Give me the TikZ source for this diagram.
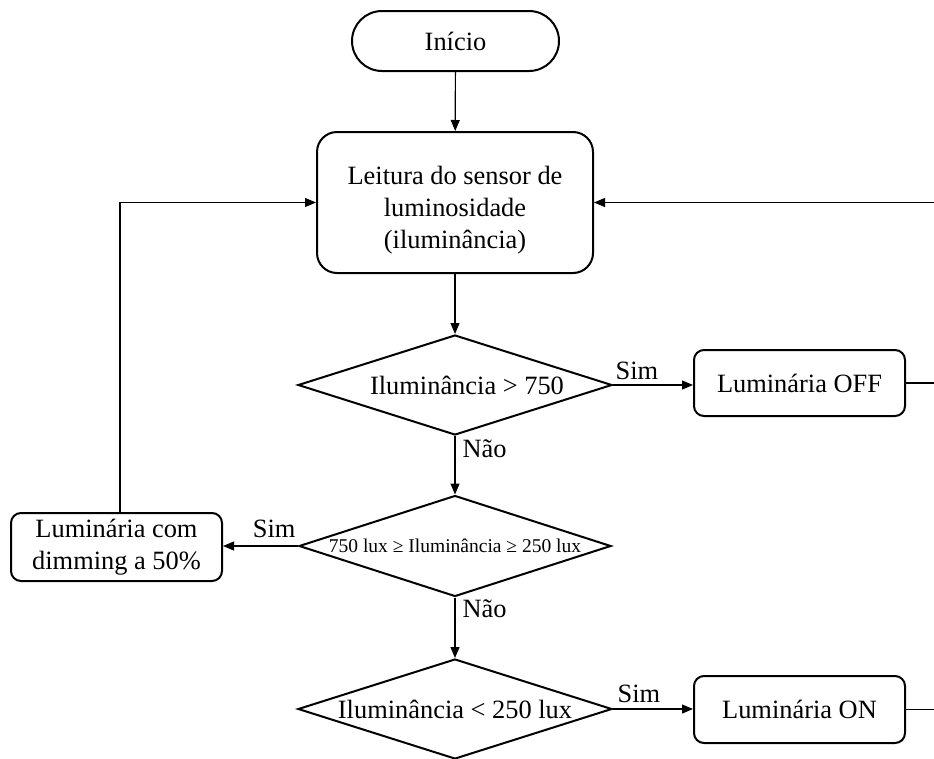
\documentclass[tikz,border=0pt]{standalone}
\usepackage{fontspec}
\setmainfont{Liberation Serif}
\usetikzlibrary{shapes.geometric,arrows.meta}
\begin{document}
\begin{tikzpicture}[x=1pt,y=-1pt,
  font=\fontsize{26.4}{32}\selectfont,
  shape line/.style={draw, line width=2pt},
  term/.style={shape line, rectangle, rounded corners=30pt, minimum width=207pt, minimum height=60pt, inner sep=0pt},
  proc/.style={shape line, rectangle, rounded corners=10pt, minimum width=211pt, minimum height=67pt, inner sep=0pt, align=center},
  bigproc/.style={shape line, rectangle, rounded corners=20pt, minimum width=276pt, minimum height=141pt, inner sep=0pt, align=center},
  dec/.style={shape line, diamond, aspect=3.14, minimum width=314pt, minimum height=100pt, inner sep=0pt},
  arr/.style={-{Triangle[length=11pt,width=9pt]}, line width=1.2pt},
  lbl/.style={inner sep=0pt}]
\useasboundingbox (0,0) rectangle (934,758);
\clip (0,0) rectangle (934,758);
\fill[white] (0,0) rectangle (934,758);

\node[term] (ini) at (455.5,41) {Início};
\node[bigproc] (lei) at (455,202.5) {\rule{0pt}{34pt}Leitura do sensor de\\luminosidade\\(iluminância)};
\node[dec] (d1) at (455,385) {\hspace*{24pt}Iluminância > 750};
\node[proc, minimum height=66pt] (off) at (799.5,383) {Luminária OFF};
\node[dec, minimum width=312pt, minimum height=101pt, font=\fontsize{19.5}{22}\selectfont] (d2) at (455,546) {750 lux ≥ Iluminância ≥ 250 lux};
\node[proc, minimum height=68pt] (dim) at (116.5,547) {Luminária com\\dimming a 50\%};
\node[dec] (d3) at (455,709) {Iluminância < 250 lux};
\node[proc] (on) at (799.5,709.5) {Luminária ON};

\draw[arr] (ini) -- (lei);
\draw[arr] (lei) -- (d1);
\draw[arr] (d1.east) -- (d1.east -| off.west)
  node[lbl, pos=0, anchor=base west, xshift=2pt, yshift=6pt] {Sim};
\draw[arr] (d1.south) -- (d2.north)
  node[lbl, pos=0, anchor=base west, xshift=7pt, yshift=-21pt] {Não};
\draw[arr] (d2.west) -- (d2.west -| dim.east)
  node[lbl, pos=0, anchor=base east, xshift=-2pt, yshift=9pt] {Sim};
\draw[arr] (d2.south) -- (d3.north)
  node[lbl, pos=0, anchor=base west, xshift=7pt, yshift=-20pt] {Não};
\draw[arr] (d3.east) -- (d3.east -| on.west)
  node[lbl, pos=0, anchor=base west, xshift=4pt, yshift=7pt] {Sim};
\draw[arr] ([xshift=3.5pt]dim.north) |- (lei.west);
\draw[line width=1.2pt] (off.east) -- ++(45,0);
\draw[arr] (on.east) -- ++(45,0) |- (lei.east);
\end{tikzpicture}
\end{document}
